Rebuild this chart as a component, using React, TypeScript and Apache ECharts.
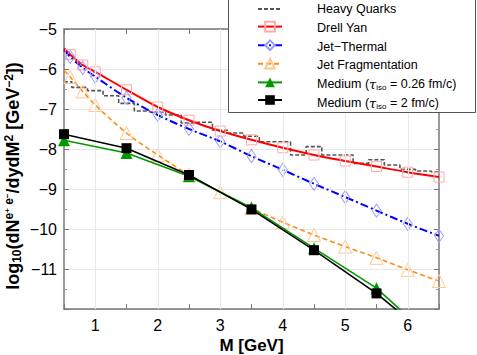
import React, { useEffect, useRef } from "react";
import * as echarts from "echarts";

// ---- data ----
const massPts = [0.5, 0.6, 0.8, 1.0, 1.5, 2.0, 2.5, 3.0, 3.5, 4.0, 4.5, 5.0, 5.5, 6.0, 6.5];
const drellYan = [-5.48, -5.64, -5.9, -6.07, -6.52, -6.95, -7.28, -7.55, -7.77, -7.97, -8.15, -8.3, -8.44, -8.58, -8.7];
const jetThermal = [-5.53, -5.7, -5.97, -6.19, -6.72, -7.15, -7.5, -7.81, -8.18, -8.52, -8.87, -9.2, -9.54, -9.87, -10.17];
const jetFrag = [-6.03, -6.2, -6.56, -6.9, -7.6, -8.15, -8.65, -9.08, -9.48, -9.83, -10.15, -10.44, -10.72, -11.02, -11.3];

const mediumPts = [0.5, 1.5, 2.5, 3.5, 4.5, 5.5, 6.5];
const medium026 = [-7.78, -8.1, -8.68, -9.47, -10.48, -11.48, -12.9];
const medium2 = [-7.63, -7.98, -8.65, -9.51, -10.53, -11.61, -12.9];

const hqPts = [0.5, 0.75, 1.0, 1.25, 1.5, 1.75, 2.0, 2.25, 2.5, 2.75, 3.0, 3.25, 3.5, 3.75, 4.0, 4.25, 4.5, 4.75, 5.0, 5.25, 5.5, 5.75, 6.0, 6.25, 6.5];
const heavyQuarks = [-6.32, -6.46, -6.54, -6.67, -6.86, -7.05, -7.08, -7.15, -7.35, -7.33, -7.53, -7.6, -7.68, -7.82, -7.82, -8.15, -7.94, -8.15, -8.15, -8.36, -8.27, -8.4, -8.51, -8.55, -8.57];

const xTickLabels = [1, 2, 3, 4, 5, 6];
const seriesNames = [
  "Heavy Quarks",
  "Drell Yan",
  "Jet\u2212Thermal",
  "Jet Fragmentation",
  "Medium (\u03c4iso = 0.26 fm/c)",
  "Medium (\u03c4iso = 2 fm/c)",
];

const FONT = "Liberation Sans, Arial, Helvetica, sans-serif";

function curveData(xs: number[], ys: number[]) {
  return xs.map((x, i) => (i === 0 ? { value: [x, ys[i]], symbol: "none" } : [x, ys[i]]));
}

function legendRich(name: string) {
  if (name.startsWith("Medium")) {
    const rest = name.replace("Medium (\u03c4iso", "");
    return "{a|Medium (}{t|\u03c4}{s|iso}{a|" + rest + "}";
  }
  return "{a|" + name + "}";
}

export default function App() {
  const ref = useRef<HTMLDivElement>(null);
  useEffect(() => {
    if (!ref.current) return;
    const chart = echarts.init(ref.current, null, { renderer: "svg" });
    const axisLine = { show: true, lineStyle: { color: "#777", width: 1.5 } };
    const tick = { show: true, inside: true, length: 5, lineStyle: { color: "#777" } };
    const minor = { show: true, splitNumber: 2, length: 3, lineStyle: { color: "#999" } };
    const hollow = (c: string) => ({ color: "rgba(0,0,0,0)", borderColor: c, borderWidth: 1 });
    const bold = { fontWeight: "bold", color: "#000", fontFamily: FONT, lineHeight: 20 };
    const legRich = {
      a: { fontSize: 12.5, color: "#000", fontFamily: FONT, lineHeight: 14 },
      t: { fontSize: 13, color: "#000", fontFamily: "DejaVu Serif, serif", fontStyle: "italic", lineHeight: 14 },
      s: { fontSize: 8, color: "#000", fontFamily: FONT, verticalAlign: "bottom", lineHeight: 14 },
    };

    chart.setOption({
      animation: false,
      backgroundColor: "#fff",
      textStyle: { fontFamily: FONT },
      grid: { left: 64, right: 38, top: 29, bottom: 46, containLabel: false, outerBoundsMode: "none" },
      xAxis: [
        {
          type: "value",
          min: 0.5,
          max: 6.5,
          interval: 0.5,
          name: "M [GeV]",
          nameLocation: "middle",
          nameGap: 28,
          nameMoveOverlap: false,
          nameTextStyle: { fontSize: 17, fontWeight: "bold", color: "#000", fontFamily: FONT },
          axisLine,
          axisTick: tick,
          axisLabel: {
            fontSize: 16,
            color: "#000",
            margin: 8,
            fontFamily: FONT,
            formatter: (v: number) => (xTickLabels.includes(v) ? String(v) : ""),
          },
          splitLine: { show: false },
        },
        {
          type: "value",
          position: "top",
          min: 0.5,
          max: 6.5,
          interval: 0.5,
          axisLine,
          axisTick: tick,
          axisLabel: { show: false },
          splitLine: { show: false },
        },
      ],
      yAxis: [
        {
          type: "value",
          min: -12,
          max: -5,
          interval: 1,
          name:
            "{b|log}{sub|10}{b|(dN}{sup|e}{sup2|+}{sup| e}{sup2|\u2212}{b|/dydM}{sup|2}{b| [GeV}{sup|\u22122}{b|])}",
          nameLocation: "middle",
          nameGap: 41,
          nameMoveOverlap: false,
          nameRotate: 90,
          nameTextStyle: {
            padding: [0, 14, 0, 0],
            rich: {
              b: { ...bold, fontSize: 18 },
              sub: { ...bold, fontSize: 12, verticalAlign: "bottom" },
              sup: { ...bold, fontSize: 12, verticalAlign: "top" },
              sup2: { ...bold, fontSize: 8, verticalAlign: "top", padding: [0, 0, 4, 0] },
            },
          },
          axisLine,
          axisTick: tick,
          minorTick: minor,
          axisLabel: {
            fontSize: 16,
            color: "#000",
            margin: 7,
            fontFamily: FONT,
            formatter: (v: number) => (v === -12 ? "" : v < 0 ? "\u2212" + Math.abs(v) : String(v)),
          },
          splitLine: { show: true, lineStyle: { color: "#e8e8e8", width: 1 } },
        },
        {
          type: "value",
          position: "right",
          min: -12,
          max: -5,
          interval: 1,
          axisLine,
          axisTick: tick,
          minorTick: minor,
          axisLabel: { show: false },
          splitLine: { show: false },
        },
      ],
      legend: {
        data: seriesNames.map((n, i) => (i === 0 ? { name: n, itemStyle: { opacity: 0 } } : { name: n })),
        orient: "vertical",
        left: 257,
        top: 3,
        padding: 0,
        itemGap: 6.8,
        itemWidth: 24,
        itemHeight: 12,
        z: 20,
        formatter: () => "",
        textStyle: { fontSize: 1 },
      },
      graphic: [
        {
          type: "rect",
          z: 10,
          shape: { x: 228.5, y: -1, width: 247, height: 113.5 },
          style: { fill: "#fff", stroke: "#555", lineWidth: 1 },
        },
        ...seriesNames.map((n, i) => ({
          type: "text",
          z: 30,
          x: 317,
          y: 9 + i * 18.8,
          style: { text: legendRich(n), rich: legRich, verticalAlign: "middle", align: "left" },
        })),
      ],
      series: [
        {
          name: "grid-x",
          type: "line",
          data: [],
          z: 0,
          silent: true,
          markLine: {
            silent: true,
            symbol: "none",
            label: { show: false },
            lineStyle: { color: "#e8e8e8", type: "solid", width: 1 },
            data: xTickLabels.map((v) => ({ xAxis: v })),
          },
        },
        {
          name: seriesNames[0],
          type: "line",
          step: "middle",
          data: hqPts.map((x, i) => [x, heavyQuarks[i]]),
          symbol: "none",
          lineStyle: { color: "#555", width: 1.6, type: [4, 2] },
          itemStyle: { color: "#555" },
          z: 3,
        },
        {
          name: seriesNames[1],
          type: "line",
          smooth: 0.3,
          data: curveData(massPts, drellYan),
          symbol: "rect",
          symbolSize: 10,
          lineStyle: { color: "#ff0000", width: 2 },
          itemStyle: hollow("#ffa8a8"),
          z: 4,
        },
        {
          name: seriesNames[2],
          type: "line",
          smooth: 0.3,
          data: curveData(massPts, jetThermal),
          symbol: "diamond",
          symbolSize: [9, 13],
          lineStyle: { color: "#0000ff", width: 2, type: [8, 3, 2, 3] },
          itemStyle: hollow("#9a9aff"),
          z: 4,
        },
        {
          name: seriesNames[3],
          type: "line",
          smooth: 0.3,
          data: curveData(massPts, jetFrag),
          symbol: "triangle",
          symbolSize: 13,
          lineStyle: { color: "#ff8c1a", width: 1.6, type: [5, 3] },
          itemStyle: hollow("#ffc890"),
          z: 4,
        },
        {
          name: seriesNames[4],
          type: "line",
          data: mediumPts.map((x, i) => [x, medium026[i]]),
          symbol: "triangle",
          symbolSize: 12,
          lineStyle: { color: "#009900", width: 1.6 },
          itemStyle: { color: "#009900" },
          z: 5,
        },
        {
          name: seriesNames[5],
          type: "line",
          data: mediumPts.map((x, i) => [x, medium2[i]]),
          symbol: "rect",
          symbolSize: 10,
          lineStyle: { color: "#000", width: 1.6 },
          itemStyle: { color: "#000" },
          z: 6,
        },
      ],
    });
    return () => chart.dispose();
  }, []);
  return <div ref={ref} style={{ width: 477, height: 355, position: "absolute", left: 0, top: 0 }} />;
}
